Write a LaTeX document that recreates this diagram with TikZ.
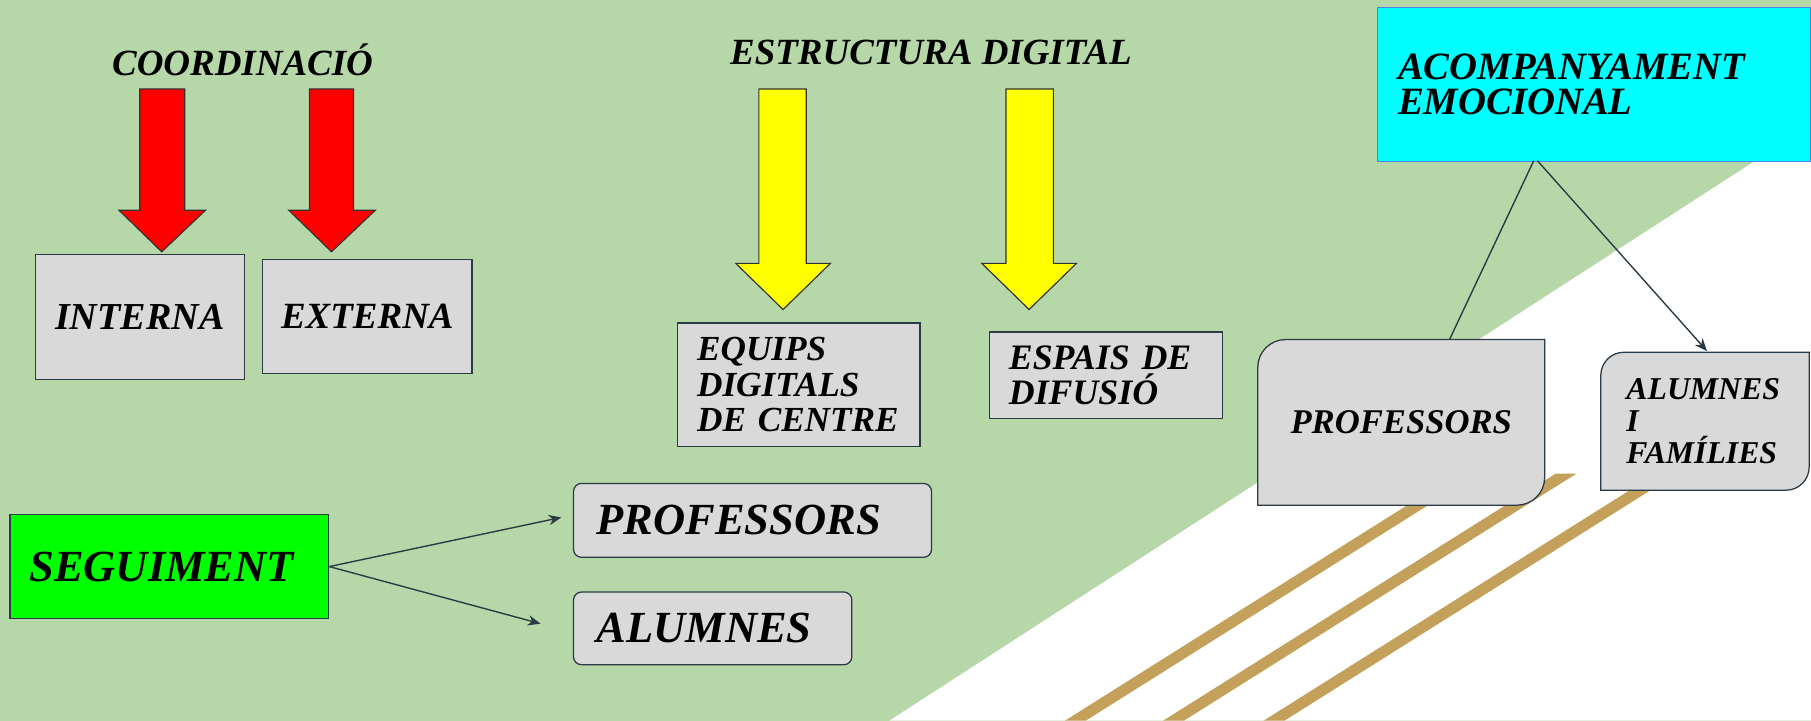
\documentclass[tikz,border=0pt]{standalone}
\usepackage{fontspec}
\setmainfont{Liberation Serif}
\usetikzlibrary{arrows.meta}
\pgfdeclarelayer{back}
\pgfdeclarelayer{mid}
\pgfsetlayers{back,mid,main}
\definecolor{bggreen}{HTML}{B6D7A8}
\definecolor{tan}{HTML}{C4A15A}
\definecolor{boxgray}{HTML}{D9D9D9}
\definecolor{bdr}{HTML}{2B3A45}
\definecolor{cyanbdr}{HTML}{4A86E8}
\definecolor{cyanfill}{HTML}{00FFFF}
\definecolor{redfill}{HTML}{FF0000}
\definecolor{yellowfill}{HTML}{FFFF00}
\definecolor{brightgreen}{HTML}{00FF00}
\newcommand\myfs[1]{\fontsize{#1}{#1}\selectfont\bfseries\itshape}
\tikzset{
  gbox/.style={draw=bdr, fill=boxgray, line width=1.1pt, inner sep=0pt, anchor=north west, text=black},
  tbox/.style={draw=none, fill=none, inner sep=0pt, anchor=north west, text=black},
  blockarrow/.style={draw=black!80, line width=1pt},
  conn/.style={draw=bdr, line width=1.2pt},
  tip/.style={-{Stealth[length=11pt,width=9pt]}},
  stripe/.style={fill=tan},
  ttl/.style={text=black, inner sep=0pt},
}
\begin{document}
\begin{tikzpicture}[x=1pt,y=1pt]
\useasboundingbox (0,0) rectangle (1568,-624);
\begin{pgfonlayer}{back}
  \fill[bggreen] (0,0) rectangle (1568,-624);
  \fill[white] (770,-624) -- (1568,-108) -- (1568,-624) -- cycle;
  % stripes
  \fill[stripe] (1262,-410) -- (1280,-410) -- (940,-624) -- (922,-624) -- cycle;
  \fill[stripe] (1347,-410) -- (1365,-410) -- (1025,-624) -- (1007,-624) -- cycle;
  \fill[stripe] (1434,-410) -- (1452,-410) -- (1112,-624) -- (1094,-624) -- cycle;
\end{pgfonlayer}

% titles
\node[ttl, font=\myfs{32}] (coord) at (210,-52) {COORDINACIÓ};
\node[ttl, font=\myfs{32}] (estr) at (806,-45) {ESTRUCTURA DIGITAL};

% block arrows
\fill[redfill, blockarrow] (121,-77) -- (160,-77) -- (160,-182) -- (178,-182) -- (140,-218) -- (103,-182) -- (121,-182) -- cycle;
\fill[redfill, blockarrow] (268,-77) -- (306,-77) -- (306,-182) -- (325,-182) -- (287,-218) -- (250,-182) -- (268,-182) -- cycle;
\fill[yellowfill, blockarrow] (657,-77) -- (698,-77) -- (698,-228) -- (719,-228) -- (678,-268) -- (637,-228) -- (657,-228) -- cycle;
\fill[yellowfill, blockarrow] (871,-77) -- (912,-77) -- (912,-228) -- (932,-228) -- (891,-268) -- (850,-228) -- (871,-228) -- cycle;

% coordination boxes
\node[gbox, minimum width=181pt, minimum height=108pt, font=\myfs{33}] (interna) at (30,-220) {INTERNA};
\node[gbox, minimum width=181pt, minimum height=99pt, font=\myfs{32}] (externa) at (227,-224) {EXTERNA};

% digital boxes
\node[gbox, minimum height=107pt, text width=176pt, inner xsep=17pt, align=left, font=\myfs{30.5}] (equips) at (586,-279) {\mbox{EQUIPS}\\\mbox{DIGITALS}\\\mbox{DE CENTRE}};
\node[gbox, minimum height=75pt, text width=168pt, inner xsep=17pt, align=left, font={\fontsize{31}{30}\selectfont\bfseries\itshape}] (espais) at (856,-287) {\mbox{ESPAIS DE}\\\mbox{DIFUSIÓ}};

% emotional box
\node[gbox, fill=cyanfill, draw=cyanbdr, minimum height=133pt, text width=339pt, inner xsep=18pt, align=left, font={\fontsize{33.5}{31}\selectfont\bfseries\itshape}] (emo) at (1192,-6) {ACOMPANYAMENT\\EMOCIONAL};

\node[tbox, minimum width=248pt, minimum height=143pt, font=\myfs{30}] (profR) at (1089,-294) {PROFESSORS};
\node[tbox, minimum height=119pt, text width=136pt, inner xsep=22pt, align=left, font={\fontsize{27.5}{28}\selectfont\bfseries\itshape}] (fam) at (1386,-305) {ALUMNES\\I\\FAMÍLIES};

\begin{pgfonlayer}{mid}
  \filldraw[fill=boxgray, draw=bdr, line width=1.1pt]
    (profR.south west) -- ([yshift=-24pt]profR.north west) arc[start angle=180, end angle=90, radius=24pt]
    -- (profR.north east) -- ([yshift=24pt]profR.south east) arc[start angle=0, end angle=-90, radius=24pt] -- cycle;
  \filldraw[fill=boxgray, draw=bdr, line width=1.1pt]
    (fam.south west) -- ([yshift=-20pt]fam.north west) arc[start angle=180, end angle=90, radius=20pt]
    -- (fam.north east) -- ([yshift=20pt]fam.south east) arc[start angle=0, end angle=-90, radius=20pt] -- cycle;
\end{pgfonlayer}

% follow-up
\node[gbox, fill=brightgreen, minimum height=90pt, text width=242pt, inner xsep=17pt, align=left, font=\myfs{38.5}] (seg) at (8,-445) {SEGUIMENT};
\node[gbox, rounded corners=7pt, minimum height=64pt, text width=270pt, inner xsep=20pt, align=left, font=\myfs{38.5}] (profM) at (496,-418) {PROFESSORS};
\node[gbox, rounded corners=7pt, minimum height=63pt, text width=201pt, inner xsep=20pt, align=left, font=\myfs{38.5}] (alum) at (496,-512) {ALUMNES};

% connectors
\coordinate (segP) at (486,-448);
\coordinate (segA) at (468,-540);
\draw[conn, tip] (seg.east) -- (segP);
\draw[conn, tip] (seg.east) -- (segA);

\coordinate (emoA) at (1328,-139);
\coordinate (emoB) at (1331,-139);
\coordinate (profRtop) at (1255,-294);
\coordinate (famtop) at (1478,-304);
\draw[conn] (emoA) -- (profRtop);
\draw[conn, tip] (emoB) -- (famtop);
\end{tikzpicture}
\end{document}
